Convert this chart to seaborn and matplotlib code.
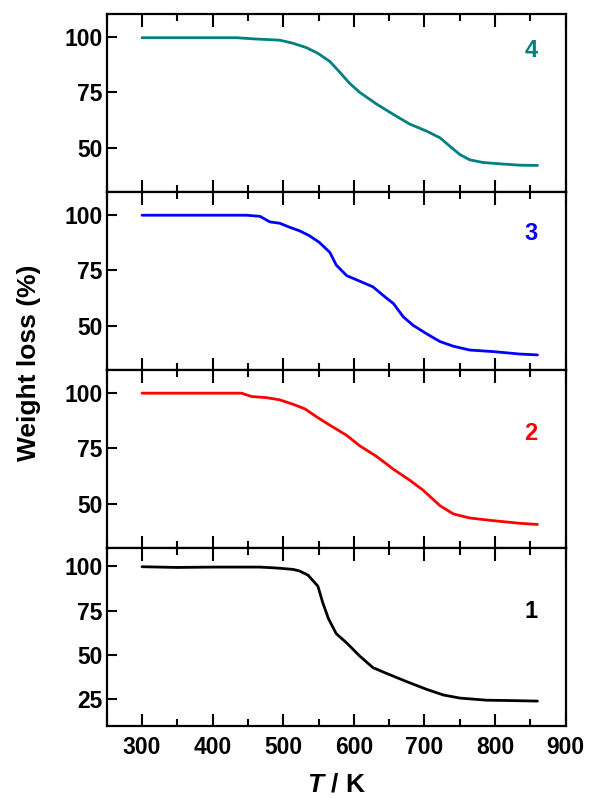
import seaborn as sns
import pandas as pd
import numpy as np
import matplotlib.pyplot as plt
from matplotlib.ticker import MultipleLocator

# values
t4 = [300, 434, 457, 495, 514, 533, 549, 566, 580, 594, 608, 632, 656, 679, 703, 722, 736, 750, 764, 783, 807, 835, 860]
w4 = [99.5, 99.5, 99.0, 98.4, 97.0, 95.0, 92.5, 88.8, 84.0, 79.0, 75.0, 69.7, 65.0, 60.7, 57.5, 54.5, 50.7, 47.0, 44.6, 43.4, 42.8, 42.2, 42.1]

t3 = [300, 448, 467, 481, 495, 509, 523, 537, 551, 566, 575, 590, 608, 627, 644, 656, 670, 684, 703, 722, 741, 764, 797, 835, 860]
w3 = [99.7, 99.7, 99.2, 96.7, 96.1, 94.3, 92.7, 90.5, 87.5, 83.0, 77.3, 72.5, 70.1, 67.5, 63.0, 60.0, 54.0, 50.2, 46.4, 42.9, 40.8, 39.1, 38.4, 37.3, 36.9]

t2 = [300, 441, 455, 476, 495, 514, 531, 547, 566, 590, 608, 632, 656, 679, 698, 722, 741, 764, 797, 835, 860]
w2 = [99.7, 99.7, 98.2, 97.7, 96.7, 94.7, 92.6, 89.1, 85.3, 80.7, 76.1, 71.3, 65.5, 60.6, 56.1, 49.1, 45.4, 43.6, 42.4, 41.2, 40.7]

t1 = [300, 349, 400, 467, 490, 514, 523, 535, 549, 556, 564, 575, 590, 608, 627, 646, 675, 703, 727, 750, 788, 821, 860]
w1 = [99.6, 99.2, 99.4, 99.4, 98.9, 98.1, 97.2, 94.9, 88.7, 79.3, 70.4, 62.0, 56.7, 49.5, 42.9, 39.7, 35.0, 30.7, 27.5, 25.8, 24.6, 24.4, 24.1]

labels = ['4', '3', '2', '1']
colors = ['#008080', '#0000ff', '#ff0000', '#000000']
series = [(t4, w4), (t3, w3), (t2, w2), (t1, w1)]
ylims = [(30, 110), (30, 110), (30, 110), (10, 110)]
yticks = [[50, 75, 100], [50, 75, 100], [50, 75, 100], [25, 50, 75, 100]]
label_y = [93.9, 91.7, 81.4, 74.4]

sns.set_style('white')
plt.rcParams['font.family'] = ['Liberation Sans', 'DejaVu Sans']
plt.rcParams['font.weight'] = 'bold'
plt.rcParams['text.color'] = 'black'
plt.rcParams['xtick.color'] = 'black'
plt.rcParams['ytick.color'] = 'black'
plt.rcParams['axes.labelcolor'] = 'black'
plt.rcParams['mathtext.fontset'] = 'custom'
plt.rcParams['mathtext.it'] = 'Liberation Sans:italic:bold'
plt.rcParams['mathtext.rm'] = 'Liberation Sans:bold'

fig, axes = plt.subplots(4, 1, sharex=True, figsize=(5.93, 7.98), dpi=100)
fig.subplots_adjust(left=0.180, right=0.954, top=0.982, bottom=0.090, hspace=0)

for ax, (t, w), lab, col, yl, yt, ly in zip(axes, series, labels, colors, ylims, yticks, label_y):
    df = pd.DataFrame({'T': t, 'w': w})
    sns.lineplot(data=df, x='T', y='w', ax=ax, color=col, linewidth=2.0)
    ax.set_xlim(250, 900)
    ax.set_ylim(*yl)
    ax.set_yticks(yt)
    ax.set_xlabel('')
    ax.set_ylabel('')
    ax.xaxis.set_major_locator(MultipleLocator(100))
    ax.xaxis.set_minor_locator(MultipleLocator(50))
    ax.tick_params(axis='x', which='major', direction='in', top=True, bottom=True,
                   length=9, width=1.5, labelsize=16.5, pad=7)
    ax.tick_params(axis='x', which='minor', direction='in', top=True, bottom=True,
                   length=5, width=1.5)
    ax.tick_params(axis='y', which='major', direction='in', left=True, right=False,
                   length=7, width=1.5, labelsize=16.5, pad=3)
    for sp in ax.spines.values():
        sp.set_linewidth(1.6)
        sp.set_color('black')
    for lbl in ax.get_xticklabels() + ax.get_yticklabels():
        lbl.set_fontweight('bold')
    ax.text(851, ly, lab, color=col, fontsize=17, fontweight='bold', ha='center', va='center')

axes[-1].set_xlabel(r'$T$ / K', fontsize=19, fontweight='bold', labelpad=10)
fig.text(0.049, 0.546, 'Weight loss (%)', rotation=90, fontsize=19, fontweight='bold',
         ha='center', va='center')

fig.savefig('out.png', dpi=100)
